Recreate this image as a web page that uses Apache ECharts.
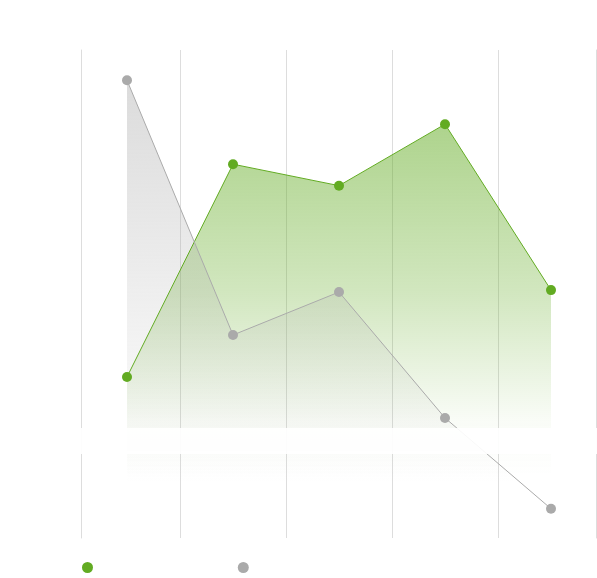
<!DOCTYPE html>
<html>
<head>
    <meta charset="utf-8">
    <title></title>
    <script src="https://cdn.jsdelivr.net/npm/echarts@6/dist/echarts.min.js"></script>
</head>
<body style="margin:0;background:#fff;">
<div id="main" style="width:597px;height:578px;"></div>
<script type="text/javascript">
    // school years on the x axis
    var years = ['2017/2018', '2018/2019', '2019/2020', '2020/2021', '2021/2022'];
    // series names (legend text is white in the original)
    var names = ['Přihlášení uchazeči', 'Meziroční změna'];
    // values
    var greenData = [65, 283, 261, 324, 154];
    var grayData = [369, 108, 152, 23, -70];
    // y axis ticks
    var yMin = -100, yMax = 400, yStep = 100;

    var green = '#62ab22';
    var gray = '#aaaaaa';

    var myChart = echarts.init(document.getElementById('main'));
    myChart.setOption({
        animation: false,
        textStyle: { fontFamily: 'Roboto' },
        grid: { left: 74, width: 530, top: 50, bottom: 40, outerBoundsMode: 'none', containLabel: false },
        legend: {
            left: 82,
            bottom: 4,
            padding: 0,
            icon: 'circle',
            itemWidth: 11,
            itemHeight: 11,
            itemGap: 28,
            textStyle: { color: '#fff', fontSize: 13 },
            data: names
        },
        xAxis: [
            {   // white band on the zero line with white labels
                type: 'category',
                data: years,
                boundaryGap: true,
                z: 5,
                axisLine: { onZero: true, lineStyle: { color: 'rgba(255,255,255,0.92)', width: 26 } },
                axisTick: { show: false },
                axisLabel: { color: '#fff', fontSize: 14, margin: -7 },
                splitLine: { show: false }
            },
            {   // only draws the vertical grid lines
                type: 'category',
                data: years,
                position: 'top',
                boundaryGap: true,
                z: 0,
                axisLine: { show: false },
                axisTick: { show: false },
                axisLabel: { show: false },
                splitLine: {
                    show: true,
                    interval: function (i) { return i !== 0; },
                    lineStyle: { color: '#dddddd', width: 1 }
                }
            }
        ],
        yAxis: [
            {
                type: 'value',
                min: yMin, max: yMax, interval: yStep,
                offset: -7,
                axisLine: { show: true, lineStyle: { color: '#dddddd' } },
                axisTick: { show: false },
                axisLabel: { color: '#fff', fontSize: 12 },
                splitLine: { show: false }
            },
            {
                type: 'value',
                position: 'right',
                min: yMin, max: yMax, interval: yStep,
                offset: -8,
                axisLine: { show: true, lineStyle: { color: '#dddddd' } },
                axisTick: { show: false },
                axisLabel: { show: false },
                splitLine: { show: false }
            }
        ],
        series: [
            {
                name: names[0],
                type: 'line',
                data: greenData,
                symbol: 'circle',
                symbolSize: 10,
                itemStyle: { color: green },
                lineStyle: { color: green, width: 1 },
                areaStyle: {
                    origin: 'start',
                    color: new echarts.graphic.LinearGradient(0, 0, 0, 1, [
                        { offset: 0, color: 'rgba(98,171,34,0.74)' },
                        { offset: 0.4, color: 'rgba(98,171,34,0.42)' },
                        { offset: 0.72, color: 'rgba(98,171,34,0.05)' },
                        { offset: 0.85, color: 'rgba(98,171,34,0)' }
                    ])
                }
            },
            {
                name: names[1],
                type: 'line',
                data: grayData,
                symbol: 'circle',
                symbolSize: 10,
                itemStyle: { color: gray },
                lineStyle: { color: gray, width: 1 },
                areaStyle: {
                    origin: 'start',
                    color: new echarts.graphic.LinearGradient(0, 0, 0, 1, [
                        { offset: 0, color: 'rgba(170,170,170,0.6)' },
                        { offset: 0.88, color: 'rgba(170,170,170,0)' }
                    ])
                }
            }
        ]
    });
</script>
</body>
</html>
